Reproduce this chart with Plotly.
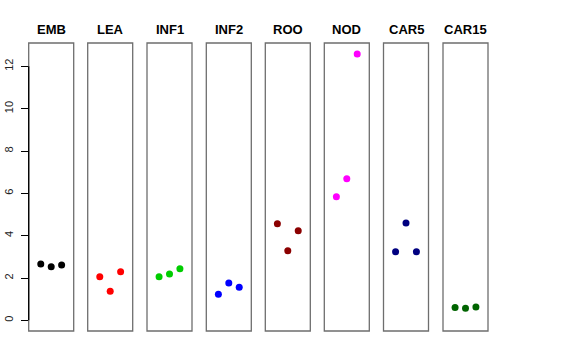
import plotly.graph_objects as go

W, H = 576, 360
tissues = ["EMB", "LEA", "INF1", "INF2", "ROO", "NOD", "CAR5", "CAR15"]
colors = ["#000000", "#FF0000", "#00CD00", "#0000FF", "#8B0000", "#FF00FF", "#000080", "#006400"]
rep_x = [1, 2, 3]
values = {
    "EMB":   [2.66, 2.53, 2.61],
    "LEA":   [2.06, 1.37, 2.30],
    "INF1":  [2.06, 2.19, 2.44],
    "INF2":  [1.23, 1.76, 1.56],
    "ROO":   [4.56, 3.29, 4.23],
    "NOD":   [5.84, 6.69, 12.59],
    "CAR5":  [3.24, 4.60, 3.24],
    "CAR15": [0.61, 0.57, 0.63],
}
y_ticks = [0, 2, 4, 6, 8, 10, 12]

# panel pixel positions
lefts = [28.7, 87.7, 147.0, 206.3, 265.3, 324.3, 383.5, 443.0]
pw = 45.0
top_px, bot_px = 43.0, 331.0
ymax = 12.6
yr = [-0.04 * ymax, ymax * 1.04]
xr = [-0.16, 4.16]


def fx(px):
    return px / W


def fy(py):
    return (H - py) / H


fig = go.Figure()
shapes = []
annotations = []
for i, t in enumerate(tissues):
    sfx = "" if i == 0 else str(i + 1)
    fig.add_trace(go.Scatter(
        x=rep_x, y=values[t], mode="markers",
        marker=dict(color=colors[i], size=7, line=dict(width=0)),
        xaxis="x" + sfx, yaxis="y" + sfx, showlegend=False, hoverinfo="y",
    ))
    dom = [fx(lefts[i]), fx(lefts[i] + pw)]
    fig.layout["xaxis" + sfx] = dict(
        domain=dom, range=xr, visible=False, fixedrange=True,
        anchor="y" + sfx,
    )
    ya = dict(
        domain=[fy(bot_px), fy(top_px)], range=yr,
        anchor="x" + sfx, showgrid=False, zeroline=False, fixedrange=True,
    )
    if i == 0:
        ya.update(
            tickmode="array", tickvals=y_ticks, ticktext=[str(v) for v in y_ticks],
            ticks="outside", ticklen=7, tickcolor="#000000", tickwidth=1,
            tickangle=-90, ticklabelstandoff=3,
            tickfont=dict(family="Liberation Sans, Arial, sans-serif", size=11, color="#222222"),
        )
    else:
        ya.update(showticklabels=False, ticks="", matches="y")
    fig.layout["yaxis" + sfx] = ya
    shapes.append(dict(
        type="rect", xref="x" + sfx + " domain", yref="y" + sfx + " domain",
        x0=0, x1=1, y0=0, y1=1, line=dict(color="#6E6E6E", width=1.3),
        fillcolor="rgba(0,0,0,0)", layer="above",
    ))
    annotations.append(dict(
        text="<b>" + t + "</b>", xref="paper", yref="paper",
        x=fx(lefts[i] + pw / 2), y=fy(29.5),
        showarrow=False, xanchor="center", yanchor="middle",
        font=dict(family="Liberation Sans, Arial, sans-serif", size=13, color="#000000"),
    ))

shapes.append(dict(
    type="line", xref="x domain", yref="y", x0=0, x1=0,
    y0=y_ticks[0], y1=y_ticks[-1], line=dict(color="#000000", width=1.3), layer="above",
))

fig.update_layout(
    width=W, height=H,
    margin=dict(l=0, r=0, t=0, b=0, autoexpand=False),
    paper_bgcolor="white", plot_bgcolor="white",
    shapes=shapes, annotations=annotations,
)

fig.write_html(
    "out.html",
    config={"displayModeBar": False, "staticPlot": True},
    post_script="document.body.style.margin='0';document.body.style.overflow='hidden';",
)
